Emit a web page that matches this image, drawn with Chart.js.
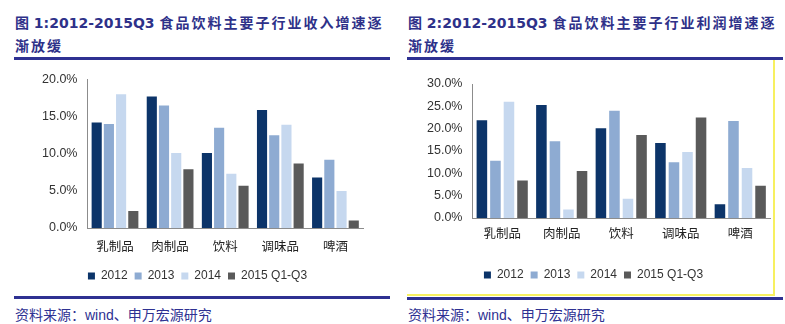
<!DOCTYPE html>
<html>
<head>
<meta charset="utf-8">
<script src="https://cdn.jsdelivr.net/npm/chart.js@4"></script>
<style>
    body { margin: 0; width: 785px; height: 324px; background: #fff; position: relative; overflow: hidden; }
    .title { position: absolute; top: 12px; color: #2e3189; font: bold 14px "DejaVu Sans", "Noto Sans CJK SC", sans-serif; line-height: 23px; }
    .title .cn { letter-spacing: 2px; }
    .rule { position: absolute; height: 3px; background: #2e3192; }
    .src { position: absolute; top: 304px; color: #2e3192; font: 14px "Liberation Sans", "Noto Sans CJK SC", sans-serif; }
    .box { position: absolute; left: 407px; top: 60px; width: 366px; height: 234px; border-right: 2px solid #f7f060; border-bottom: 2px solid #f7f060; }
    canvas { position: absolute; }
</style>
</head>
<body>
<div class="title" style="left:15px">图 1:2012-2015Q3 <span class="cn">食品饮料主要子行业收入增速逐</span><br><span class="cn">渐放缓</span></div>
<div class="title" style="left:408px">图 2:2012-2015Q3 <span class="cn">食品饮料主要子行业利润增速逐</span><br><span class="cn">渐放缓</span></div>
<div class="rule" style="left:14px; top:57px; width:376px"></div>
<div class="rule" style="left:407px; top:57px; width:376px"></div>
<div class="box"></div>
<div class="rule" style="left:14px; top:296px; width:376px"></div>
<div class="rule" style="left:407px; top:297px; width:376px"></div>
<div class="src" style="left:15px">资料来源：wind、申万宏源研究</div>
<div class="src" style="left:408px">资料来源：wind、申万宏源研究</div>

<canvas id="revenueChart" style="left:14px; top:62px" width="376" height="234"></canvas>
<canvas id="profitChart" style="left:407px; top:62px" width="366" height="232"></canvas>

<script>
const categories = ["乳制品", "肉制品", "饮料", "调味品", "啤酒"];
const seriesNames = ["2012", "2013", "2014", "2015 Q1-Q3"];
const seriesColors = ["#0c3469", "#8eabd2", "#c6d8ef", "#5a5a5a"];

// 收入增速 (%)
const revenue2012 = [14.2, 17.7, 10.1, 15.9, 6.8];
const revenue2013 = [14.0, 16.5, 13.5, 12.5, 9.2];
const revenue2014 = [18.0, 10.1, 7.3, 13.9, 5.0];
const revenue2015 = [2.3, 7.9, 5.7, 8.7, 1.0];

// 利润增速 (%)
const profit2012 = [21.9, 25.3, 20.1, 16.8, 3.1];
const profit2013 = [12.8, 17.2, 24.0, 12.5, 21.7];
const profit2014 = [26.0, 1.9, 4.3, 14.8, 11.2];
const profit2015 = [8.4, 10.5, 18.6, 22.5, 7.2];

const tickFont = { family: '"Liberation Sans", "Noto Sans CJK SC", sans-serif', size: 12.5 };

function makeDatasets(seriesData) {
    return seriesData.map((values, i) => ({
        label: seriesNames[i],
        data: values,
        backgroundColor: seriesColors[i],
        borderWidth: 0
    }));
}

function createChart(canvasId, seriesData, yMax, padding, catPct, barPct, xPad, xExtra) {
    new Chart(document.getElementById(canvasId), {
        type: 'bar',
        data: {
            labels: categories,
            datasets: makeDatasets(seriesData)
        },
        options: {
            responsive: false,
            animation: false,
            categoryPercentage: catPct,
            barPercentage: barPct,
            layout: { padding: padding },
            plugins: {
                tooltip: { enabled: false },
                legend: {
                    position: 'bottom',
                    labels: {
                        boxWidth: 7,
                        boxHeight: 7,
                        padding: 7,
                        color: '#333',
                        font: { family: '"Liberation Sans", sans-serif', size: 12 }
                    }
                }
            },
            scales: {
                x: {
                    grid: { display: false, drawTicks: false },
                    border: { display: true, color: '#8c8c8c', width: 1 },
                    ticks: { color: '#222', padding: xPad, font: tickFont },
                    afterFit: scale => { scale.height += xExtra; }
                },
                y: {
                    min: 0,
                    max: yMax,
                    grid: { display: false, drawTicks: false },
                    border: { display: true, color: '#8c8c8c', width: 1 },
                    ticks: {
                        stepSize: 5,
                        color: '#333',
                        padding: 10,
                        font: tickFont,
                        callback: v => v.toFixed(1) + '%'
                    }
                }
            }
        }
    });
}

createChart('revenueChart', [revenue2012, revenue2013, revenue2014, revenue2015], 20,
    { left: 18, right: 27, top: 15, bottom: 4 }, 0.886, 0.83, 12, -4);
createChart('profitChart', [profit2012, profit2013, profit2014, profit2015], 30,
    { left: 10, right: 3, top: 22, bottom: 3 }, 0.91, 0.78, 9, 11);
</script>
</body>
</html>
